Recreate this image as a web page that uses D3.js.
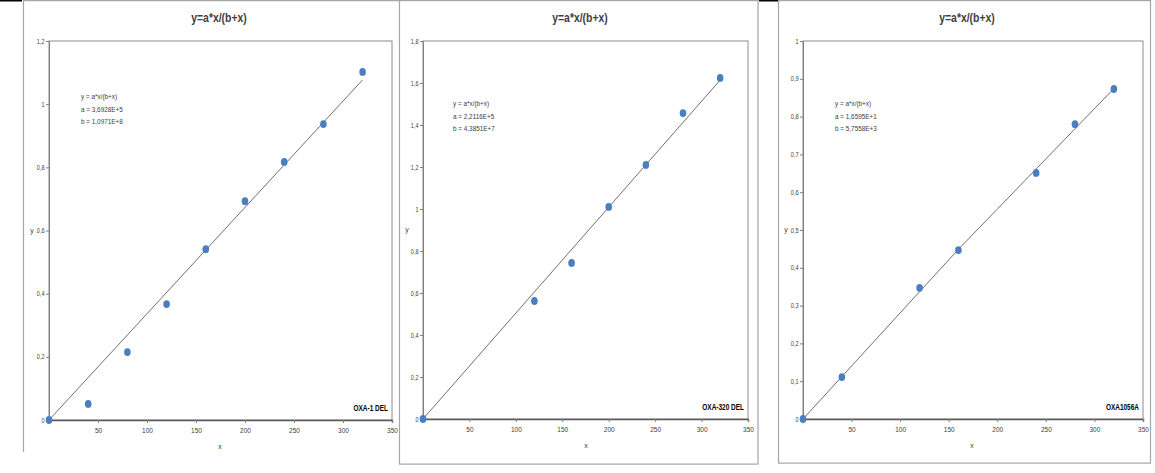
<!DOCTYPE html>
<html><head><meta charset="utf-8">
<script src="https://cdn.jsdelivr.net/npm/d3@7"></script>
<style>
body{margin:0;background:#fff;}
svg{display:block;font-family:"Liberation Sans Narrow","Liberation Sans",Arial,sans-serif;}
</style></head>
<body><svg id="c" width="1155" height="473"></svg>
<script>
// ---- data ----
const titleText = "y=a*x/(b+x)";
const xTickValues = [50,100,150,200,250,300,350];

const p1X = [0,40,80,120,160,200,240,280,320];
const p1Y = [0,0.051,0.215,0.367,0.541,0.693,0.817,0.937,1.102];
const p1FitX = [0,320];
const p1FitY = [0,1.077];
const p1YTicks = [0,0.2,0.4,0.6,0.8,1,1.2];
const p1Text = ["y = a*x/(b+x)","a = 3,6928E+5","b = 1,0971E+8"];
const p1Label = "OXA-1 DEL";

const p2X = [0,120,160,200,240,280,320];
const p2Y = [0,0.562,0.743,1.01,1.21,1.457,1.624];
const p2FitX = [0,320];
const p2FitY = [0,1.614];
const p2YTicks = [0,0.2,0.4,0.6,0.8,1,1.2,1.4,1.6,1.8];
const p2Text = ["y = a*x/(b+x)","a = 2,2116E+5","b = 4,3851E+7"];
const p2Label = "OXA-320 DEL";

const p3X = [0,40,120,160,240,280,320];
const p3Y = [0,0.111,0.347,0.447,0.651,0.78,0.873];
const p3FitX = [0,160,320];
const p3FitY = [0,0.449,0.874];
const p3YTicks = [0,0.1,0.2,0.3,0.4,0.5,0.6,0.7,0.8,0.9,1];
const p3Text = ["y = a*x/(b+x)","a = 1,6595E+1","b = 5,7558E+3"];
const p3Label = "OXA1056A";

// ---- layout ----
const panels = [
  {x:p1X,y:p1Y,fx:p1FitX,fy:p1FitY,yt:p1YTicks,ymax:1.2,text:p1Text,label:p1Label,
   L:49,R:392,T:41,B:420,titleX:219,txtX:81,txtY:99,ylabX:32,xlabX:220},
  {x:p2X,y:p2Y,fx:p2FitX,fy:p2FitY,yt:p2YTicks,ymax:1.8,text:p2Text,label:p2Label,
   L:423,R:748,T:41,B:419,titleX:580,txtX:453,txtY:106,ylabX:407,xlabX:586},
  {x:p3X,y:p3Y,fx:p3FitX,fy:p3FitY,yt:p3YTicks,ymax:1,text:p3Text,label:p3Label,
   L:803,R:1143,T:41,B:419,titleX:967,txtX:835,txtY:106,ylabX:786,xlabX:972}
];

const svg = d3.select("#c");
const fmt = v => String(v).replace(".", ",");
const borderCol = "#a6a6a6";
const condense = 0.8;

// panel borders
svg.append("line").attr("x1",23.5).attr("x2",23.5).attr("y1",0).attr("y2",452).attr("stroke",borderCol).attr("stroke-width",1.2);
svg.append("line").attr("x1",23).attr("x2",399).attr("y1",0.6).attr("y2",0.6).attr("stroke",borderCol).attr("stroke-width",1.2);
svg.append("rect").attr("x",399.5).attr("y",0.6).attr("width",358.5).attr("height",463.5).attr("fill","none").attr("stroke",borderCol).attr("stroke-width",1.2);
svg.append("rect").attr("x",778.5).attr("y",0.6).attr("width",372).attr("height",462.5).attr("fill","none").attr("stroke",borderCol).attr("stroke-width",1.2);
svg.append("rect").attr("x",0).attr("y",0).attr("width",22).attr("height",1.5).attr("fill","#000");
svg.append("rect").attr("x",759).attr("y",0).attr("width",19).attr("height",1.5).attr("fill","#000");

panels.forEach(p => {
  const g = svg.append("g");
  const xs = d3.scaleLinear().domain([0,350]).range([p.L,p.R]);
  const ys = d3.scaleLinear().domain([0,p.ymax]).range([p.B,p.T]);

  // frame
  g.append("rect").attr("x",p.L).attr("y",p.T).attr("width",p.R-p.L).attr("height",p.B-p.T)
    .attr("fill","none").attr("stroke","#8c8c8c").attr("stroke-width",1);

  // y axis
  const ya = g.append("g").attr("transform",`translate(${p.L},0)`)
    .call(d3.axisLeft(ys).tickValues(p.yt).tickSize(3).tickFormat(fmt));
  ya.select(".domain").attr("stroke","#7f7f7f");
  ya.selectAll(".tick line").attr("stroke","#7f7f7f");
  ya.selectAll("text").attr("font-size",6.5).attr("fill","#404040")
    .attr("x",null).attr("dx",null)
    .attr("transform","translate(-4.5,0) scale(0.85,1)");

  // x axis
  const xa = g.append("g").attr("transform",`translate(0,${p.B})`)
    .call(d3.axisBottom(xs).tickValues(xTickValues).tickSize(3).tickFormat(d3.format("d")));
  xa.select(".domain").attr("stroke","#595959").attr("stroke-width",1.5);
  xa.selectAll(".tick line").attr("stroke","#7f7f7f");
  xa.selectAll("text").attr("font-size",6.5).attr("fill","#404040").attr("dy","1.1em");

  // fit line
  const pts = p.fx.map((v,i)=>[v,p.fy[i]]);
  g.append("path").datum(pts)
    .attr("d", d3.line().x(d=>xs(d[0])).y(d=>ys(d[1])))
    .attr("fill","none").attr("stroke","#707070").attr("stroke-width",1);

  // points
  g.selectAll("ellipse.pt").data(p.x.map((v,i)=>[v,p.y[i]])).enter()
    .append("ellipse").attr("cx",d=>xs(d[0])).attr("cy",d=>ys(d[1]))
    .attr("rx",3.3).attr("ry",3.9).attr("fill","#4a7ebf");

  // title (condensed)
  g.append("text").attr("transform",`translate(${p.titleX},22) scale(${condense},1)`)
    .attr("text-anchor","middle")
    .attr("font-size",13).attr("font-weight","bold").attr("fill","#404040").text(titleText);

  // annotation
  p.text.forEach((t,i)=>{
    g.append("text").attr("transform",`translate(${p.txtX},${p.txtY+i*12.5}) scale(0.85,1)`)
      .attr("font-size",7.5).attr("fill","#404040").text(t);
  });

  // corner label (condensed)
  g.append("text").attr("transform",`translate(${p.R-4},${p.B-9}) scale(0.72,1)`)
    .attr("text-anchor","end")
    .attr("font-size",9).attr("font-weight","bold").attr("fill","#000").text(p.label);

  // axis titles
  g.append("text").attr("x",p.ylabX).attr("y",(p.T+p.B)/2+2).attr("text-anchor","middle")
    .attr("font-size",7).attr("fill","#404040").text("y");
  g.append("text").attr("x",p.xlabX).attr("y",p.B+29).attr("text-anchor","middle")
    .attr("font-size",7).attr("fill","#404040").text("x");
});
</script></body></html>
